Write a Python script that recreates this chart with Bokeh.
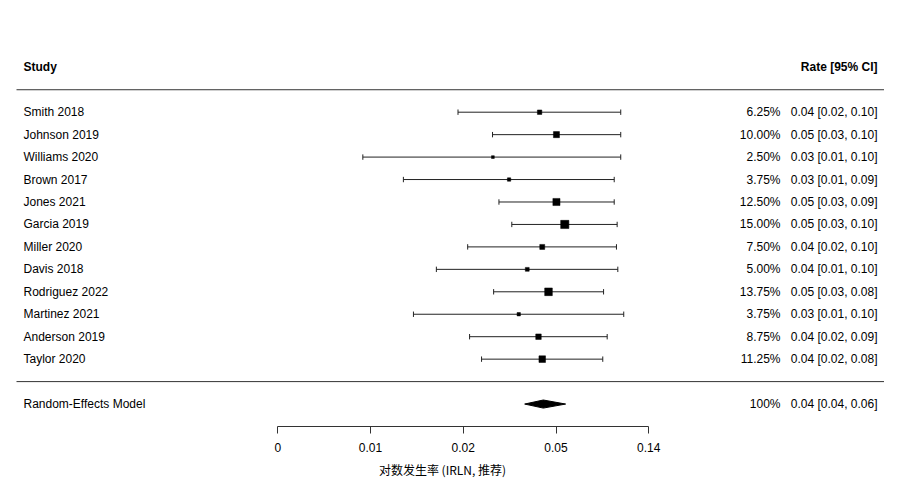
import numpy as np
from bokeh.plotting import figure
from bokeh.models import Range1d, FixedTicker, LinearAxis
from bokeh.core.properties import value
from bokeh.embed import file_html
from bokeh.resources import INLINE

# ---- data ----
studies = ["Smith 2018", "Johnson 2019", "Williams 2020", "Brown 2017", "Jones 2021",
           "Garcia 2019", "Miller 2020", "Davis 2018", "Rodriguez 2022", "Martinez 2021",
           "Anderson 2019", "Taylor 2020"]
rate = [0.0417, 0.0500, 0.0252, 0.0300, 0.0500, 0.0547, 0.0429, 0.0365, 0.0459, 0.0333, 0.0412, 0.0429]
lower = [0.0173, 0.0251, 0.0062, 0.0096, 0.0269, 0.0309, 0.0192, 0.0137, 0.0254, 0.0107, 0.0196, 0.0223]
upper = [0.1000, 0.1000, 0.1000, 0.0932, 0.0932, 0.0962, 0.0955, 0.0969, 0.0831, 0.1033, 0.0864, 0.0824]
weights = [6.25, 10.00, 2.50, 3.75, 12.50, 15.00, 7.50, 5.00, 13.75, 3.75, 8.75, 11.25]
re_rate, re_lower, re_upper = 0.0434, 0.0355, 0.0552
re_label = "Random-Effects Model"
tick_logs = [-6, -5, -4, -3, -2]
tick_labels = ["0", "0.01", "0.02", "0.05", "0.14"]
x_title = "对数发生率 (IRLN, 推荐)"

FONT = "Liberation Sans"
FS = "12px"

def px2x(px):
    # convert a horizontal reference pixel into log-rate units
    return -6 + (px - 277.3) / 92.75

n = len(studies)
ys = [-i for i in range(n)]
lest = np.log(rate)
llo = np.log(lower)
lhi = np.log(upper)
w = np.array(weights)
sizes = 2.8 + 5.4 * (w - w.min()) / (w.max() - w.min())

p = figure(width=884, height=484, x_range=Range1d(px2x(0), px2x(884)),
           y_range=Range1d(-14, 4.975), toolbar_location=None, output_backend="svg",
           y_axis_location=None, x_axis_location=None,
           min_border_left=0, min_border_right=0, min_border_top=0, min_border_bottom=58)
p.outline_line_color = None
p.xgrid.visible = False
p.ygrid.visible = False
p.background_fill_color = "white"
p.border_fill_color = "white"

ax = LinearAxis(ticker=FixedTicker(ticks=tick_logs), bounds=(-6, -2),
                major_label_overrides={t: l for t, l in zip(tick_logs, tick_labels)},
                axis_label=x_title)
ax.major_tick_in = 0
ax.major_tick_out = 7
ax.minor_tick_out = 0
ax.minor_tick_in = 0
ax.axis_line_color = "#333333"
ax.major_tick_line_color = "#333333"
ax.major_label_text_font = "Liberation Sans"
ax.major_label_text_font_size = FS
ax.major_label_text_color = "black"
ax.major_label_standoff = 9
ax.axis_label_text_font = "Noto Sans CJK SC"
ax.axis_label_text_font_size = FS
ax.axis_label_text_font_style = "normal"
ax.axis_label_text_color = "black"
ax.axis_label_standoff = 6
p.add_layout(ax, "below")

# separators
p.segment(x0=[px2x(16)] * 2, x1=[px2x(884)] * 2, y0=[1, -12], y1=[1, -12],
          line_color="#333333", line_width=1)

# CIs
p.segment(x0=llo, x1=lhi, y0=ys, y1=ys, line_color="#222222", line_width=1)
cap = 0.12
p.segment(x0=llo, x1=llo, y0=[y - cap for y in ys], y1=[y + cap for y in ys], line_color="#222222", line_width=1)
p.segment(x0=lhi, x1=lhi, y0=[y - cap for y in ys], y1=[y + cap for y in ys], line_color="#222222", line_width=1)
p.scatter(x=lest, y=ys, size=sizes, marker="square", fill_color="black", line_color="black", line_width=0.5)

# summary diamond
yre = -13
h = 0.18
p.patch(x=[np.log(re_lower), np.log(re_rate), np.log(re_upper), np.log(re_rate)],
        y=[yre, yre + h, yre, yre - h], fill_color="black", line_color="black")

# texts
p.text(x=[px2x(23)], y=[2], text=["Study"], text_font=value(FONT), text_font_size=FS,
       text_font_style="bold", text_baseline="middle", text_align="left", text_color="black")
p.text(x=[px2x(877)], y=[2], text=["Rate [95% CI]"], text_font=value(FONT), text_font_size=FS,
       text_font_style="bold", text_baseline="middle", text_align="right", text_color="black")

p.text(x=[px2x(23)] * (n + 1), y=ys + [yre], text=studies + [re_label], text_font=value(FONT),
       text_font_size=FS, text_baseline="middle", text_align="left", text_color="black")

wtxt = [f"{v:.2f}%" for v in weights] + ["100%"]
p.text(x=[px2x(780)] * (n + 1), y=ys + [yre], text=wtxt, text_font=value(FONT),
       text_font_size=FS, text_baseline="middle", text_align="right", text_color="black")

rtxt = [f"{a:.2f} [{b:.2f}, {c:.2f}]" for a, b, c in zip(rate, lower, upper)]
rtxt.append(f"{re_rate:.2f} [{re_lower:.2f}, {re_upper:.2f}]")
p.text(x=[px2x(877)] * (n + 1), y=ys + [yre], text=rtxt, text_font=value(FONT),
       text_font_size=FS, text_baseline="middle", text_align="right", text_color="black")

open("out.html", "w").write(file_html(p, INLINE))
